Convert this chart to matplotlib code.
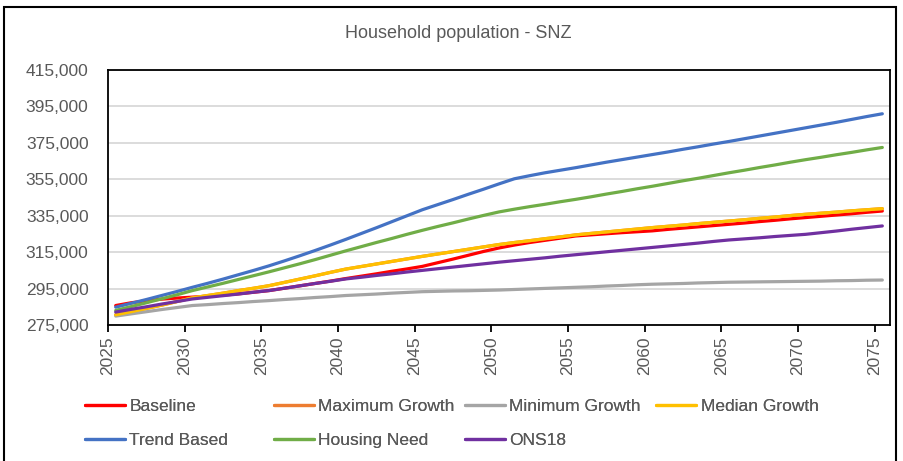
import matplotlib
matplotlib.use("Agg")
import matplotlib.pyplot as plt
import matplotlib.patches as mpatches
from matplotlib.ticker import FuncFormatter

plt.rcParams["font.family"] = ["Liberation Sans", "DejaVu Sans"]

years = list(range(2025, 2076))

baseline = [285700, 287200, 288300, 289200, 289800, 290300, 290800, 291400, 292100, 293000,
            293900, 295200, 296500, 297800, 299100, 300500, 301800, 303100, 304500, 305800,
            307200, 309200, 311200, 313300, 315400, 317300, 318900, 320300, 321500, 322700,
            323900, 324500, 325100, 325700, 326200, 326700, 327500, 328200, 328900, 329600,
            330300, 331000, 331800, 332500, 333300, 334000, 334700, 335400, 336100, 336900,
            337600]
median_growth = [280600, 282300, 284100, 285900, 287900, 289900, 291200, 292500, 293900, 295200,
                 296600, 298400, 300200, 302000, 303900, 305700, 307100, 308500, 309900, 311300,
                 312700, 314000, 315300, 316600, 317900, 319200, 320300, 321300, 322400, 323400,
                 324500, 325300, 326100, 326900, 327700, 328500, 329200, 329900, 330700, 331400,
                 332100, 332800, 333600, 334300, 335100, 335800, 336400, 337000, 337700, 338300,
                 338900]
# hidden underneath Median Growth in the reference
maximum_growth = list(median_growth)
minimum_growth = [279900, 281100, 282300, 283500, 284600, 285700, 286200, 286800, 287300, 287900,
                  288400, 289000, 289500, 290100, 290600, 291200, 291600, 292000, 292500, 292900,
                  293300, 293500, 293700, 293800, 294000, 294200, 294500, 294800, 295100, 295400,
                  295700, 296000, 296400, 296700, 297100, 297400, 297600, 297800, 298100, 298300,
                  298500, 298600, 298700, 298800, 298900, 299000, 299100, 299300, 299400, 299600,
                  299700]
trend_based = [284800, 286900, 289000, 291200, 293400, 295700, 297900, 300200, 302600, 305000,
               307500, 310200, 313000, 315900, 318900, 322000, 325200, 328400, 331700, 335000,
               338300, 341100, 343900, 346800, 349600, 352500, 355300, 357000, 358600, 360000,
               361400, 362900, 364400, 365800, 367200, 368600, 370000, 371500, 372900, 374400,
               375800, 377300, 378800, 380300, 381800, 383300, 384800, 386300, 387900, 389500,
               391000]
housing_need = [283000, 285100, 287200, 289400, 291600, 293900, 295900, 297900, 300000, 302100,
                304200, 306400, 308600, 310900, 313300, 315700, 318000, 320300, 322500, 324800,
                327000, 329100, 331100, 333200, 335200, 337100, 338600, 340000, 341300, 342700,
                344000, 345400, 346900, 348300, 349800, 351200, 352700, 354200, 355600, 357100,
                358600, 360000, 361500, 362900, 364400, 365800, 367100, 368500, 369800, 371200,
                372500]
ons18 = [282100, 283600, 285000, 286500, 287900, 289300, 290200, 291100, 292000, 293000,
         293900, 295200, 296500, 297800, 299000, 300300, 301200, 302200, 303100, 304100,
         305000, 305900, 306800, 307700, 308600, 309500, 310300, 311100, 311900, 312800,
         313600, 314400, 315200, 316000, 316800, 317600, 318400, 319200, 320000, 320900,
         321700, 322300, 322900, 323600, 324200, 324800, 325700, 326600, 327600, 328500,
         329400]

series = [
    ("Baseline", baseline, "#FF0000"),
    ("Maximum Growth", maximum_growth, "#ED7D31"),
    ("Minimum Growth", minimum_growth, "#A5A5A5"),
    ("Median Growth", median_growth, "#FFC000"),
    ("Trend Based", trend_based, "#4472C4"),
    ("Housing Need", housing_need, "#70AD47"),
    ("ONS18", ons18, "#7030A0"),
]
y_ticks = list(range(275000, 415001, 20000))
x_ticks = list(range(2025, 2076, 5))

TEXT = "#595959"
fig = plt.figure(figsize=(9.04, 4.61), dpi=100)
ax = fig.add_axes([0.1195, 0.295, 0.865, 0.553])

# category axis: points sit in the middle of each year slot
xs = [y + 0.5 for y in years]
handles = []
for name, vals, color in series:
    line, = ax.plot(xs, vals, color=color, lw=2.3, label=name, solid_capstyle="round")
    handles.append(line)

ax.set_xlim(2025, 2076)
ax.set_ylim(275000, 415000)
ax.set_yticks(y_ticks)
ax.yaxis.set_major_formatter(FuncFormatter(lambda v, p: f"{int(v):,}"))
ax.set_xticks(x_ticks)
ax.tick_params(axis="x", direction="out", length=5, width=1.3, colors="black",
               labelcolor=TEXT, labelsize=12.5, labelrotation=90, pad=3)
ax.tick_params(axis="y", length=0, labelcolor=TEXT, labelsize=12.5, pad=14)
ax.grid(axis="y", color="#D9D9D9", lw=1.3)
ax.set_axisbelow(True)
for sp in ax.spines.values():
    sp.set_color("black")
    sp.set_linewidth(1.3)

fig.text(0.507, 0.928, "Household population - SNZ", ha="center", va="center",
         fontsize=13, color=TEXT)

# legend laid out in four equal columns like the original
cols = [(0.094, [0, 4]), (0.303, [1, 5]), (0.514, [2, 6]), (0.726, [3])]
for x0, idx in cols:
    leg = fig.legend(handles=[handles[i] for i in idx], loc="upper left",
                     bbox_to_anchor=(x0, 0.134), frameon=False, fontsize=12.5,
                     handlelength=2.3, handletextpad=0.25, labelspacing=1.05,
                     borderpad=0, borderaxespad=0, labelcolor=TEXT)
    fig.add_artist(leg)

border = mpatches.Rectangle((4 / 904, -0.05), 892 / 904, 1 - 7 / 461 + 0.05,
                            transform=fig.transFigure, fill=False, ec="black", lw=1.5)
fig.add_artist(border)

fig.savefig("out.png", dpi=100)
plt.close(fig)
